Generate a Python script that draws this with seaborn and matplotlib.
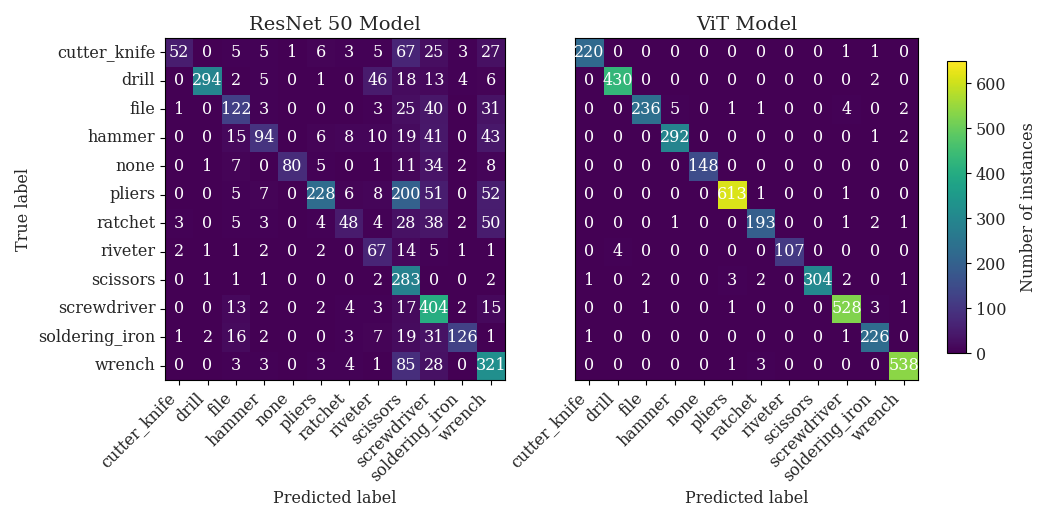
import numpy as np
import matplotlib
matplotlib.use("Agg")
import matplotlib.pyplot as plt
import seaborn as sns

classes = ["cutter_knife", "drill", "file", "hammer", "none", "pliers", "ratchet",
           "riveter", "scissors", "screwdriver", "soldering_iron", "wrench"]

resnet_cm = [
    [52, 0, 5, 5, 1, 6, 3, 5, 67, 25, 3, 27],
    [0, 294, 2, 5, 0, 1, 0, 46, 18, 13, 4, 6],
    [1, 0, 122, 3, 0, 0, 0, 3, 25, 40, 0, 31],
    [0, 0, 15, 94, 0, 6, 8, 10, 19, 41, 0, 43],
    [0, 1, 7, 0, 80, 5, 0, 1, 11, 34, 2, 8],
    [0, 0, 5, 7, 0, 228, 6, 8, 200, 51, 0, 52],
    [3, 0, 5, 3, 0, 4, 48, 4, 28, 38, 2, 50],
    [2, 1, 1, 2, 0, 2, 0, 67, 14, 5, 1, 1],
    [0, 1, 1, 1, 0, 0, 0, 2, 283, 0, 0, 2],
    [0, 0, 13, 2, 0, 2, 4, 3, 17, 404, 2, 15],
    [1, 2, 16, 2, 0, 0, 3, 7, 19, 31, 126, 1],
    [0, 0, 3, 3, 0, 3, 4, 1, 85, 28, 0, 321],
]

vit_cm = [
    [220, 0, 0, 0, 0, 0, 0, 0, 0, 1, 1, 0],
    [0, 430, 0, 0, 0, 0, 0, 0, 0, 0, 2, 0],
    [0, 0, 236, 5, 0, 1, 1, 0, 0, 4, 0, 2],
    [0, 0, 0, 292, 0, 0, 0, 0, 0, 0, 1, 2],
    [0, 0, 0, 0, 148, 0, 0, 0, 0, 0, 0, 0],
    [0, 0, 0, 0, 0, 613, 1, 0, 0, 1, 0, 0],
    [0, 0, 0, 1, 0, 0, 193, 0, 0, 1, 2, 1],
    [0, 4, 0, 0, 0, 0, 0, 107, 0, 0, 0, 0],
    [1, 0, 2, 0, 0, 3, 2, 0, 304, 2, 0, 1],
    [0, 0, 1, 0, 0, 1, 0, 0, 0, 528, 3, 1],
    [1, 0, 0, 0, 0, 0, 0, 0, 0, 1, 226, 0],
    [0, 0, 0, 0, 0, 1, 3, 0, 0, 0, 0, 538],
]

titles = ["ResNet 50 Model", "ViT Model"]

sns.set_theme(style="white")
plt.rcParams["font.family"] = ["DejaVu Serif"]

fig = plt.figure(figsize=(10.45, 5.07), dpi=100)
ax_left = fig.add_axes([165 / 1045, 1 - 380 / 507, 340 / 1045, 342 / 507])
ax_right = fig.add_axes([575 / 1045, 1 - 380 / 507, 343 / 1045, 342 / 507])
cax = fig.add_axes([947 / 1045, 1 - 353 / 507, 19 / 1045, 292 / 507])

vmin, vmax = 0, 650
for ax, cm, title, show_y in zip([ax_left, ax_right], [resnet_cm, vit_cm], titles, [True, False]):
    sns.heatmap(np.array(cm), ax=ax, cmap="viridis", vmin=vmin, vmax=vmax,
                annot=True, fmt="d", cbar=False, square=False,
                annot_kws={"color": "white", "fontsize": 11.5},
                xticklabels=classes, yticklabels=classes if show_y else False)
    ax.set_title(title, fontsize=14)
    ax.set_xlabel("Predicted label", fontsize=11.5, labelpad=4)
    for s in ax.spines.values():
        s.set_visible(True)
        s.set_color("black")
        s.set_linewidth(0.8)
    ax.tick_params(axis="x", bottom=True, length=3.5, width=0.8, labelsize=11.5, color="black")
    plt.setp(ax.get_xticklabels(), rotation=45, ha="right")
    if show_y:
        ax.set_ylabel("True label", fontsize=11.5)
        ax.tick_params(axis="y", left=True, length=3.5, width=0.8, labelsize=11.5, color="black")
        plt.setp(ax.get_yticklabels(), rotation=0)
    else:
        ax.set_ylabel("")
        ax.tick_params(axis="y", left=False)

sm = plt.cm.ScalarMappable(cmap="viridis", norm=plt.Normalize(vmin=vmin, vmax=vmax))
cb = fig.colorbar(sm, cax=cax)
cb.set_label("Number of instances", fontsize=11.5, labelpad=10)
cb.ax.tick_params(labelsize=11.5, length=3.5, width=0.8, right=True, color="black")
cb.set_ticks([0, 100, 200, 300, 400, 500, 600])
cb.outline.set_edgecolor("black")
cb.outline.set_linewidth(0.8)

fig.savefig("out.png", dpi=100)
